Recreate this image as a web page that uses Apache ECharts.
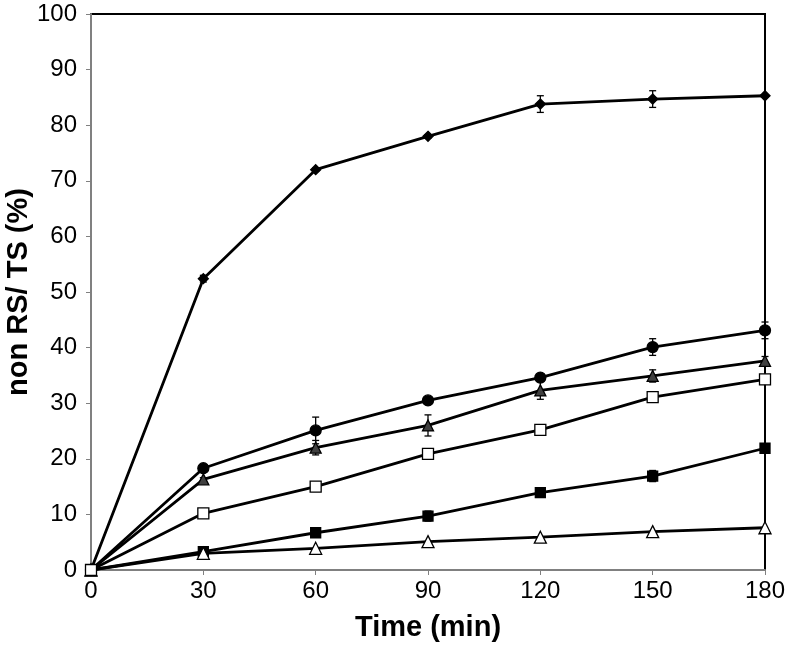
<!DOCTYPE html>
<html>
<head>
<meta charset="utf-8">
<script src="https://cdn.jsdelivr.net/npm/echarts@6/dist/echarts.min.js"></script>
<style>html,body{margin:0;padding:0;background:#fff;}#c{width:786px;height:651px;}</style>
</head>
<body>
<div id="c"></div>
<script>
var times = [0, 30, 60, 90, 120, 150, 180];
var xTicks = [0, 30, 60, 90, 120, 150, 180];
var yTicks = [0, 10, 20, 30, 40, 50, 60, 70, 80, 90, 100];

var diamondVals = [0, 52.4, 72.0, 78.0, 83.8, 84.7, 85.3];
var diamondErr  = [0, 0.6, 0.3, 0.3, 1.5, 1.5, 0];
var circleVals  = [0, 18.3, 25.1, 30.5, 34.6, 40.1, 43.1];
var circleErr   = [0, 0.4, 2.4, 0.3, 0.4, 1.5, 1.5];
var triFillVals = [0, 16.3, 22.0, 26.0, 32.3, 34.9, 37.6];
var triFillErr  = [0, 0.3, 1.3, 1.9, 1.6, 1.1, 0.8];
var sqOpenVals  = [0, 10.2, 15.0, 20.9, 25.2, 31.1, 34.3];
var sqOpenErr   = [0, 0, 0, 0, 0, 0, 0];
var sqFillVals  = [0, 3.3, 6.7, 9.7, 13.9, 16.9, 21.9];
var sqFillErr   = [0, 0.3, 0.5, 0.9, 0.6, 1.0, 0.5];
var triOpenVals = [0, 3.0, 3.9, 5.1, 5.9, 6.9, 7.6];
var triOpenErr  = [0, 0, 0, 0, 0, 0, 0];

function pairs(v){ return times.map(function(t,i){ return [t, v[i]]; }); }
function errData(v,e){ return times.map(function(t,i){ return [t, v[i]-e[i], v[i]+e[i]]; }); }

function errSeries(v,e,color){
  return {
    type:'custom', z:3, silent:true,
    data: errData(v,e),
    renderItem: function(params, api){
      var lo = api.value(1), hi = api.value(2);
      if (hi - lo < 0.05) return;
      var x = api.value(0);
      var p1 = api.coord([x, hi]), p2 = api.coord([x, lo]);
      var w = 3.5;
      var st = {stroke: color || '#000', lineWidth: 1.3};
      return {type:'group', children:[
        {type:'line', shape:{x1:p1[0],y1:p1[1],x2:p2[0],y2:p2[1]}, style:st},
        {type:'line', shape:{x1:p1[0]-w,y1:p1[1],x2:p1[0]+w,y2:p1[1]}, style:st},
        {type:'line', shape:{x1:p2[0]-w,y1:p2[1],x2:p2[0]+w,y2:p2[1]}, style:st}
      ]};
    }
  };
}

function lineSeries(v, symbol, size, fill, z){
  return {
    type:'line', data: pairs(v), symbol: symbol, symbolSize: size, showSymbol:true,
    z: z, silent:true, animation:false,
    lineStyle:{color:'#000', width:2.8},
    itemStyle:{color: fill, borderColor:'#000', borderWidth: 1.3, opacity:1}
  };
}

var FONT = 'Liberation Sans, Arial, sans-serif';
var chart = echarts.init(document.getElementById('c'), null, {renderer:'canvas'});
chart.setOption({
  animation:false,
  backgroundColor:'#fff',
  grid:{left:91, right:21, top:14, bottom:81, containLabel:false, outerBoundsMode:'none',
    show:true, borderColor:'#000', borderWidth:2, backgroundColor:'transparent'},
  xAxis:{
    type:'value', min:0, max:180, interval:30,
    axisLine:{show:true, lineStyle:{color:'#808080', width:2}},
    axisTick:{show:true, inside:false, length:5, lineStyle:{color:'#808080', width:1}},
    splitLine:{show:false},
    axisLabel:{fontFamily:FONT, fontSize:24, color:'#000', margin:9,
      formatter:function(v){ return xTicks.indexOf(v) >= 0 ? String(v) : ''; }},
    name:'Time (min)', nameLocation:'middle', nameGap:43, nameMoveOverlap:false,
    nameTextStyle:{fontFamily:FONT, fontSize:29, fontWeight:'bold', color:'#000'}
  },
  yAxis:{
    type:'value', min:0, max:100, interval:10,
    axisLine:{show:true, lineStyle:{color:'#808080', width:2}},
    axisTick:{show:true, inside:false, length:5, lineStyle:{color:'#808080', width:1}},
    splitLine:{show:false},
    axisLabel:{fontFamily:FONT, fontSize:24, color:'#000', margin:14,
      formatter:function(v){ return yTicks.indexOf(v) >= 0 ? String(v) : ''; }},
    name:'non RS/ TS (%)', nameLocation:'middle', nameGap:58, nameRotate:90, nameMoveOverlap:false,
    nameTextStyle:{fontFamily:FONT, fontSize:29, fontWeight:'bold', color:'#000'}
  },
  series:[
    errSeries(diamondVals, diamondErr),
    errSeries(circleVals, circleErr),
    errSeries(triFillVals, triFillErr),
    errSeries(sqOpenVals, sqOpenErr),
    errSeries(sqFillVals, sqFillErr),
    errSeries(triOpenVals, triOpenErr),
    lineSeries(diamondVals, 'diamond', 10, '#000', 4),
    lineSeries(circleVals, 'circle', 11, '#000', 4),
    lineSeries(triFillVals, 'triangle', 11, '#404040', 4),
    lineSeries(sqFillVals, 'rect', 10, '#000', 4),
    lineSeries(triOpenVals, 'triangle', 12, '#fff', 5),
    lineSeries(sqOpenVals, 'rect', 11, '#fff', 6)
  ]
});
</script>
</body>
</html>
